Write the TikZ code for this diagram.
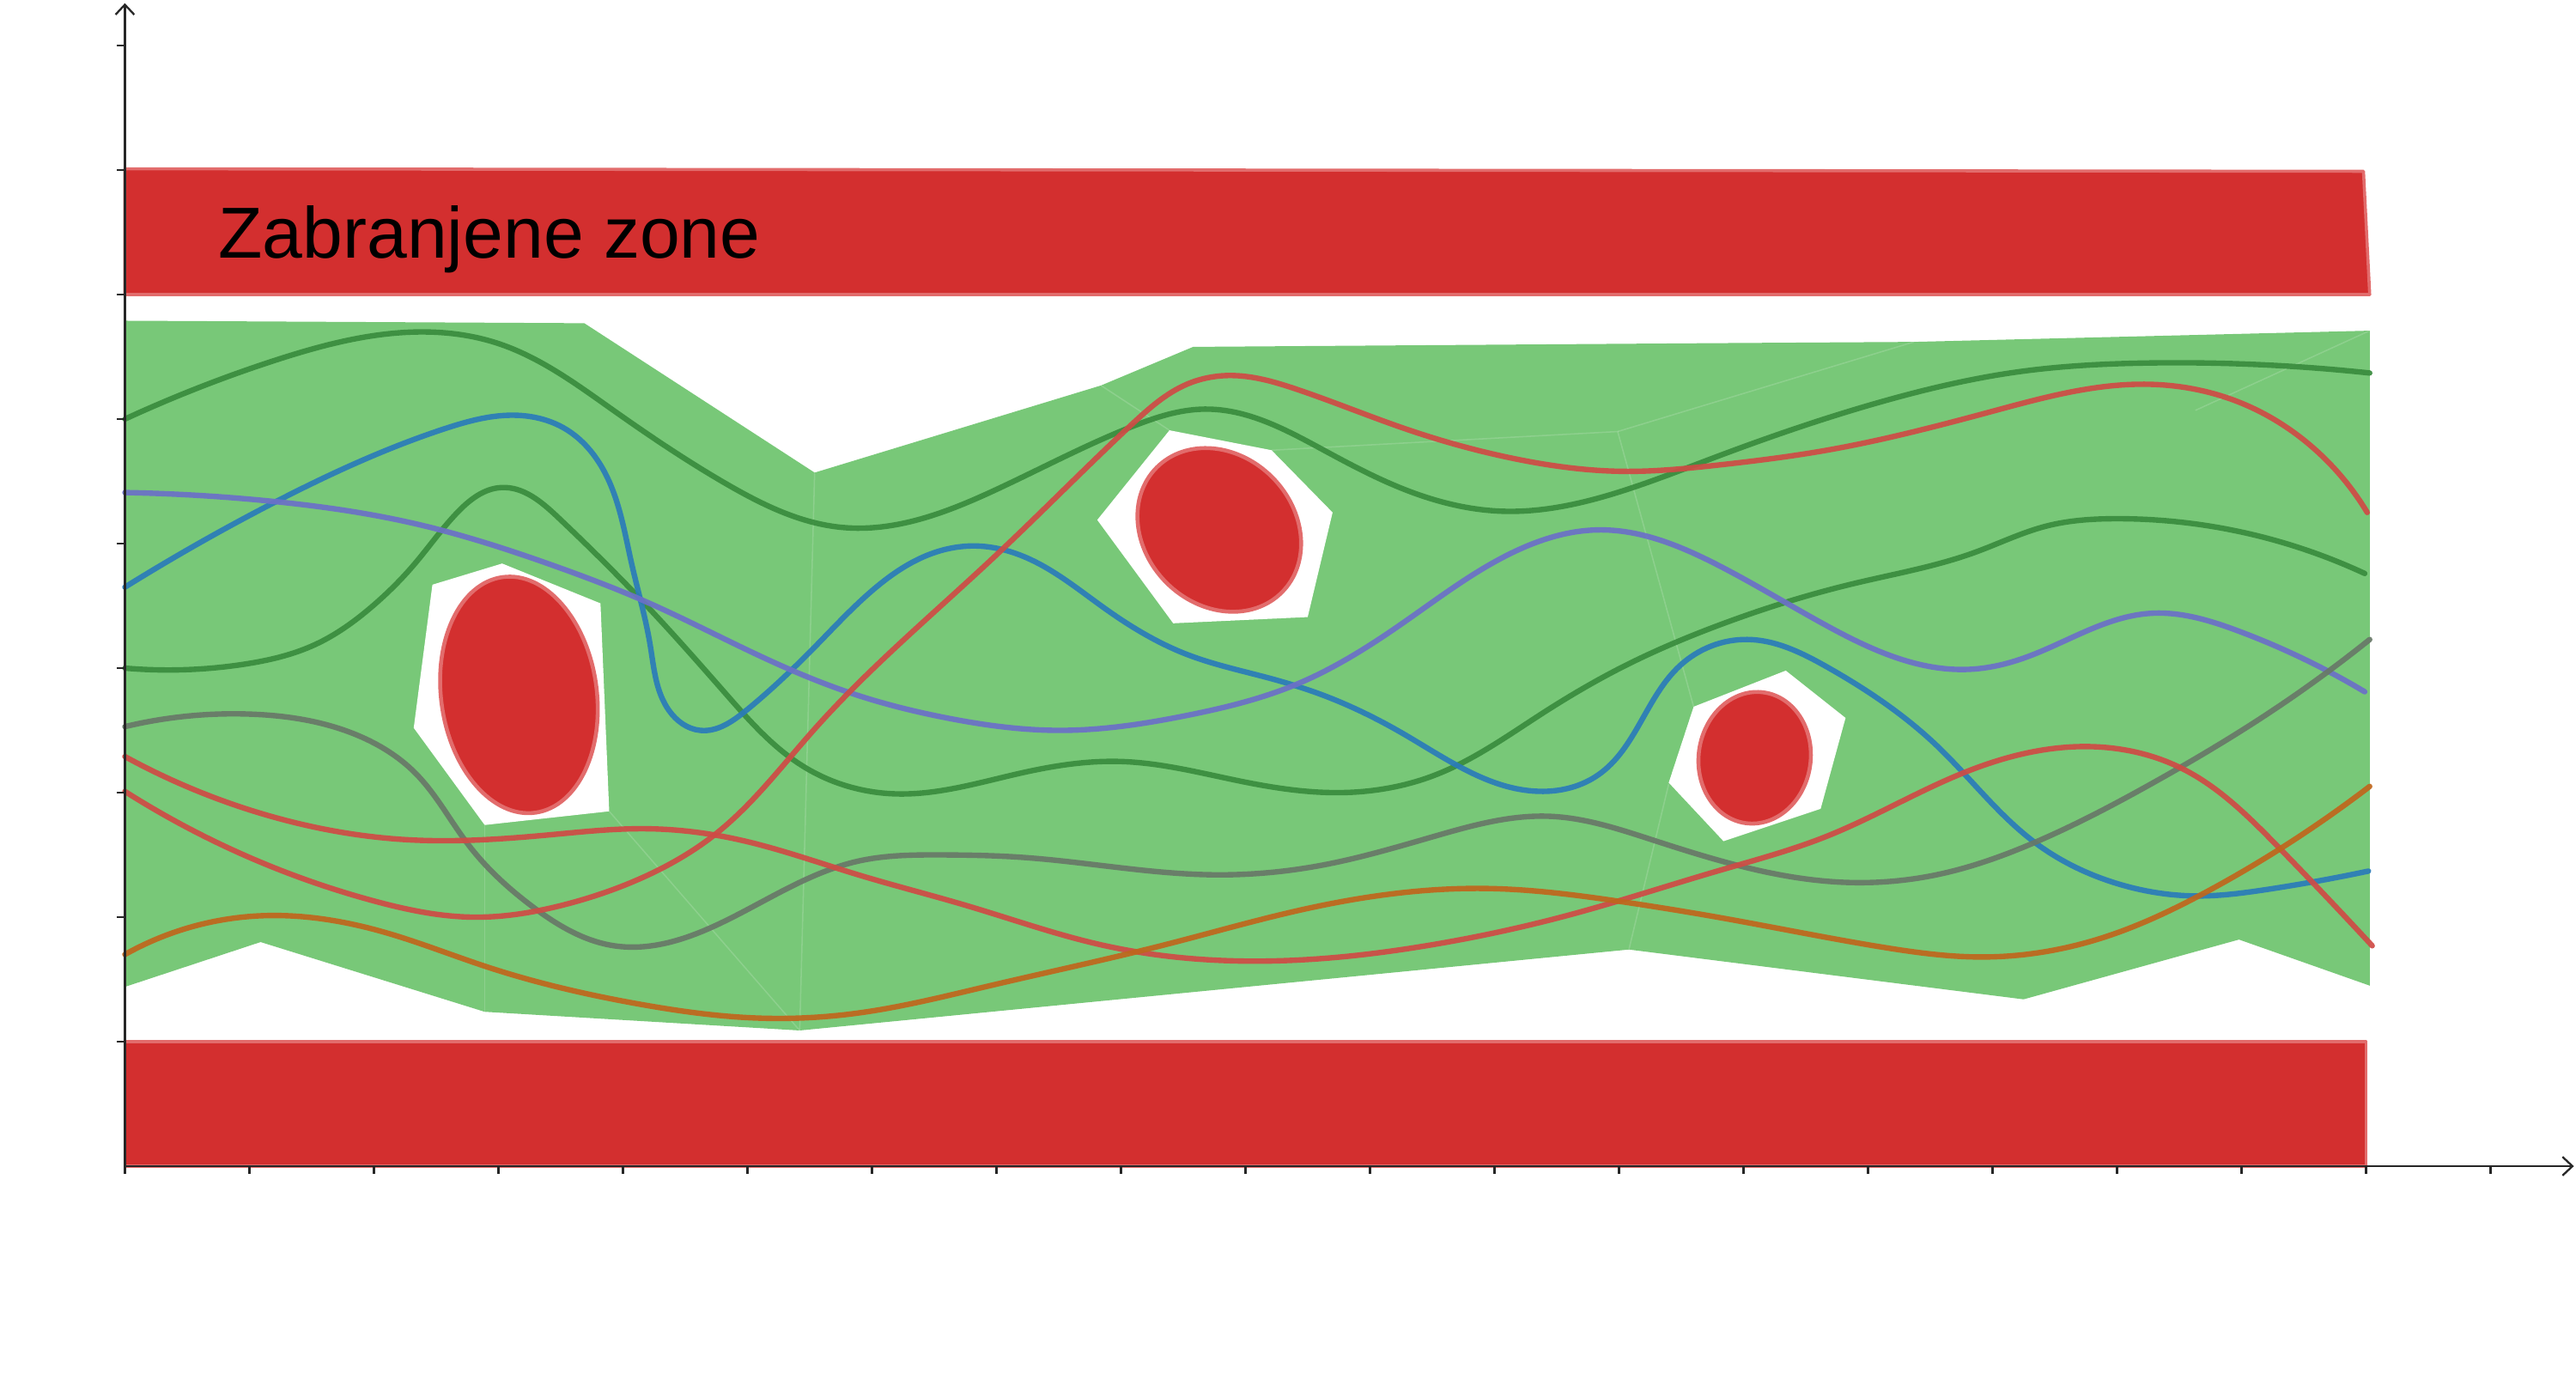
\documentclass[tikz,border=0pt]{standalone}
\usepackage{fontspec}
\setmainfont{Liberation Sans}
\usetikzlibrary{arrows.meta,hobby}
\definecolor{zonered}{HTML}{D32F2F}
\definecolor{zoneedge}{HTML}{E26C6C}
\definecolor{freegreen}{HTML}{78C878}
\definecolor{cgreen}{HTML}{3A8C3E}
\definecolor{cblue}{HTML}{2A7BBA}
\definecolor{cpurple}{HTML}{6C70C8}
\definecolor{cgray}{HTML}{687868}
\definecolor{cred}{HTML}{CF4B45}
\definecolor{corange}{HTML}{C0661C}
\tikzset{
  zone/.style={fill=zonered, draw=zoneedge, line width=0.7pt, line join=round},
  holearea/.style={fill=white, draw=none},
  obst/.style={fill=zonered, draw=zoneedge, line width=0.9pt},
  traj/.style={line width=1.25pt, line cap=round, opacity=0.92, use Hobby shortcut},
  seam/.style={draw=white, opacity=0.16, line width=0.3pt},
  axisline/.style={draw=black!85, line width=0.45pt},
  tickline/.style={draw=black!85, line width=0.45pt},
}
\begin{document}
\begin{tikzpicture}
\useasboundingbox (-1.003,-1.759) rectangle (19.687,9.366);

% free (green) region
\fill[freegreen] (0,6.79) -- (3.69,6.77) -- (5.54,5.57) -- (7.84,6.27) -- (8.58,6.58)
  -- (12.79,6.61) -- (14.37,6.62) -- (18.03,6.71) -- (18.03,1.45) -- (16.98,1.82)
  -- (15.25,1.34) -- (12.08,1.74) -- (5.42,1.09) -- (2.89,1.24) -- (1.09,1.80)
  -- (0,1.44) -- cycle;

% faint triangulation seams
\draw[seam] (2.89,2.74) -- (2.89,1.24);
\draw[seam] (3.89,2.85) -- (5.42,1.09);
\draw[seam] (5.54,5.57) -- (5.42,1.09);
\draw[seam] (7.84,6.27) -- (8.39,5.91);
\draw[seam] (9.21,5.75) -- (11.99,5.90) -- (12.60,3.69);
\draw[seam] (11.99,5.90) -- (14.37,6.62);
\draw[seam] (12.40,3.07) -- (12.08,1.74);
\draw[seam] (18.03,6.71) -- (16.63,6.07);

% holes around obstacles
\fill[holearea] (2.47,4.67) -- (3.03,4.84) -- (3.82,4.52) -- (3.89,2.85) -- (2.89,2.74) -- (2.32,3.52) -- cycle;
\fill[holearea] (8.39,5.91) -- (9.21,5.75) -- (9.70,5.25) -- (9.50,4.41) -- (8.42,4.36) -- (7.81,5.19) -- cycle;
\fill[holearea] (12.60,3.69) -- (13.34,3.98) -- (13.82,3.60) -- (13.62,2.87) -- (12.84,2.61) -- (12.40,3.08) -- cycle;

% obstacles
\draw[obst] (3.165,3.785) ellipse[x radius=0.625, y radius=0.955, rotate=8];
\draw[obst] (8.79,5.11) ellipse[x radius=0.71, y radius=0.6, rotate=-45];
\draw[obst] (13.09,3.28) ellipse[x radius=0.45, y radius=0.53, rotate=-8];

% forbidden zones
\draw[zone] (0,8.01) -- (17.98,7.99) -- (18.03,7.0) -- (0,7.0) -- cycle;
\draw[zone] (0,1.0) -- (18.0,1.0) -- (18.0,0) -- (0,0) -- cycle;
\node[anchor=base west, inner sep=0pt, font=\fontsize{16.5pt}{20pt}\selectfont] (label) at (0.745,7.29) {Zabranjene zone};

% trajectories
\draw[traj, cgreen] (0,6.0) .. (1.2,6.47) .. (2.40,6.70) .. (2.99,6.61) .. (3.91,6.08) .. (4.83,5.48) .. (5.76,5.13) .. (6.99,5.43) .. (8.09,5.94) .. (8.67,6.08) .. (9.63,5.75) .. (10.29,5.43) .. (11.06,5.26) .. (12.05,5.43) .. (12.79,5.70) .. (14.11,6.14) .. (15.21,6.38) .. (16.22,6.45) .. (18.03,6.37);

\draw[traj, cgreen] (0,4.0) .. (0.95,4.03) .. (1.53,4.19) .. (1.98,4.49) .. (2.33,4.84) .. (2.67,5.25) .. (3.02,5.45) .. (3.48,5.21) .. (4.22,4.47) .. (4.83,3.79) .. (5.45,3.21) .. (6.19,2.99) .. (7.21,3.16) .. (8.00,3.25) .. (8.97,3.09) .. (9.76,3.00) .. (10.52,3.14) .. (11.39,3.64) .. (12.05,4.02) .. (12.79,4.34) .. (13.89,4.68) .. (14.86,4.93) .. (15.43,5.14) .. (16.00,5.20) .. (16.75,5.14) .. (17.99,4.76);

\draw[traj, cblue] (0,4.65) .. (1.18,5.32) .. (2.56,5.92) .. (3.16,6.03) .. (3.54,5.92) .. (3.85,5.58) .. (4.07,4.84) .. (4.22,4.18) .. (4.37,3.66) .. (4.62,3.50) .. (4.99,3.66) .. (5.60,4.23) .. (6.77,4.98) .. (7.21,4.90) .. (7.87,4.48) .. (8.53,4.11) .. (9.19,3.92) .. (9.63,3.78) .. (10.29,3.46) .. (11.39,3.01) .. (11.83,3.14) .. (12.49,4.02) .. (13.03,4.23) .. (13.67,4.01) .. (14.55,3.38) .. (15.34,2.60) .. (16.0,2.27) .. (16.66,2.17) .. (17.19,2.22) .. (18.02,2.37);

\draw[traj, cpurple] (0,5.41) .. (1.18,5.34) .. (2.33,5.16) .. (3.48,4.81) .. (4.17,4.54) .. (5.16,4.07) .. (5.89,3.78) .. (6.6,3.60) .. (7.52,3.50) .. (8.53,3.62) .. (9.41,3.87) .. (10.29,4.38) .. (11.17,4.94) .. (11.83,5.11) .. (12.79,4.83) .. (13.67,4.34) .. (14.81,3.99) .. (15.25,4.08) .. (16.27,4.44) .. (16.97,4.30) .. (17.99,3.81);

\draw[traj, cgray] (0,3.53) .. (1.02,3.63) .. (1.87,3.46) .. (2.33,3.16) .. (2.76,2.58) .. (3.28,2.08) .. (3.93,1.77) .. (4.76,1.94) .. (5.89,2.45) .. (6.55,2.50) .. (7.21,2.48) .. (8.75,2.34) .. (9.63,2.42) .. (10.52,2.65) .. (11.44,2.81) .. (12.27,2.62) .. (13.80,2.28) .. (14.55,2.34) .. (15.34,2.60) .. (16.31,3.09) .. (17.19,3.62) .. (18.03,4.23);

\draw[traj, cred] (0,3.01) .. (1.07,2.45) .. (2.0,2.13) .. (2.8,2.0) .. (3.53,2.10) .. (4.14,2.31) .. (4.76,2.68) .. (5.53,3.50) .. (6.99,4.90) .. (8.09,5.96) .. (8.53,6.28) .. (8.87,6.35) .. (9.41,6.24) .. (10.29,5.92) .. (11.17,5.68) .. (12.05,5.58) .. (12.79,5.63) .. (13.67,5.75) .. (14.99,6.06) .. (16.22,6.28) .. (16.97,6.14) .. (17.54,5.80) .. (18.01,5.25);

\draw[traj, cred] (0,3.29) .. (1.07,2.84) .. (2.30,2.62) .. (3.40,2.66) .. (4.19,2.71) .. (4.94,2.62) .. (5.89,2.34) .. (6.77,2.09) .. (7.83,1.78) .. (9.29,1.65) .. (10.51,1.78) .. (11.61,2.02) .. (12.79,2.37) .. (13.67,2.65) .. (14.77,3.16) .. (15.72,3.37) .. (16.53,3.19) .. (17.28,2.58) .. (18.05,1.77);

\draw[traj, corange] (0,1.70) .. (1.07,2.01) .. (2.08,1.88) .. (2.91,1.60) .. (4.14,1.30) .. (5.07,1.19) .. (5.89,1.23) .. (6.95,1.45) .. (8.36,1.78) .. (9.41,2.05) .. (10.95,2.23) .. (12.05,2.12) .. (12.79,2.0) .. (14.11,1.76) .. (14.90,1.68) .. (15.87,1.83) .. (16.75,2.22) .. (18.03,3.05);

% axes
\coordinate (O) at (0,0);
\coordinate (ytop) at (0,9.34);
\coordinate (xend) at (19.67,0);
\draw[axisline, -{Straight Barb[length=0.8mm, width=1.5mm]}] (O) -- (ytop);
\draw[axisline, -{Straight Barb[length=0.8mm, width=1.5mm]}] (O) -- (xend);
\foreach \k in {1,...,9} \draw[tickline] (-0.065,\k) -- (0,\k);
\foreach \k in {0,...,19} \draw[tickline] (\k,0) -- (\k,-0.065);
\end{tikzpicture}
\end{document}
